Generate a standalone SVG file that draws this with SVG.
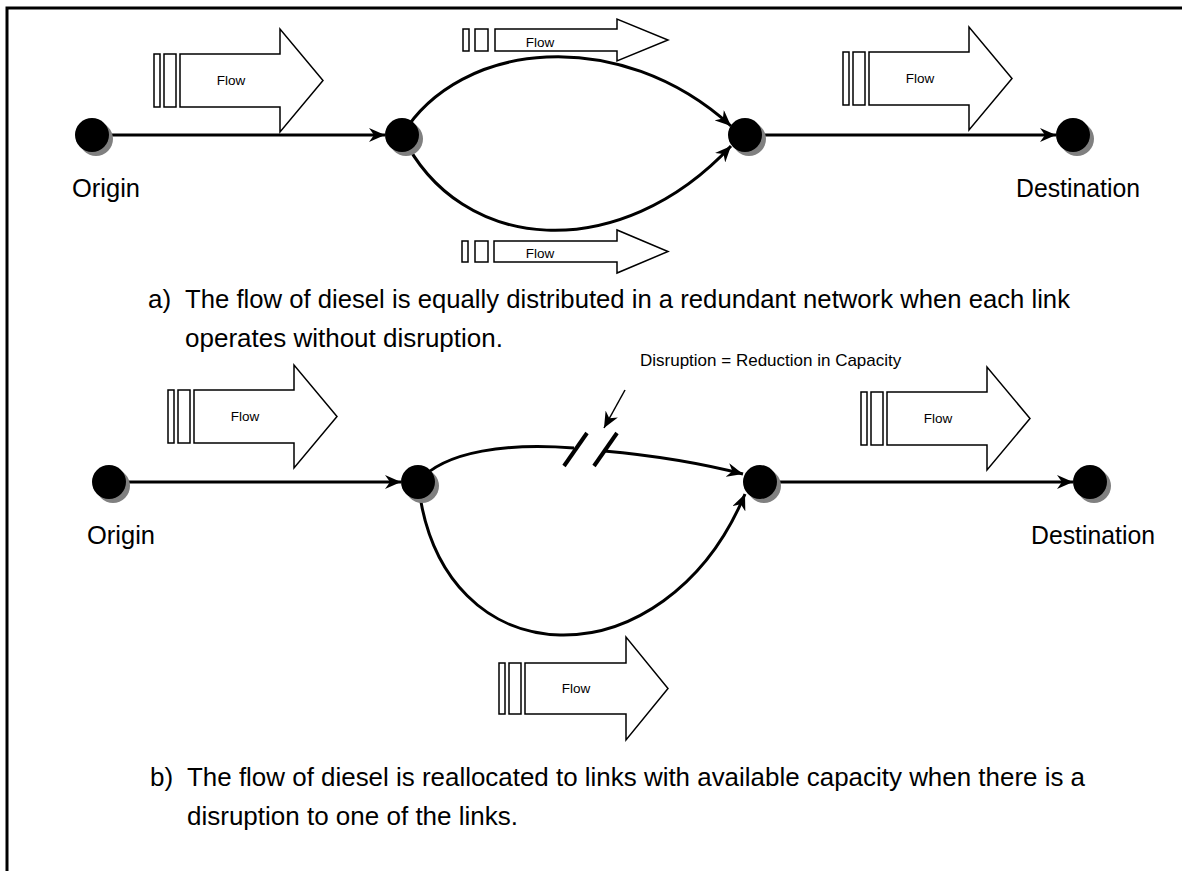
<svg xmlns="http://www.w3.org/2000/svg" width="1182" height="871" viewBox="0 0 1182 871">
<defs>
<marker id="ah" markerUnits="userSpaceOnUse" markerWidth="18" markerHeight="14" refX="16" refY="7" orient="auto">
<path d="M0,0 L16,7 L0,14 L5,7 Z" fill="#000"/>
</marker>
</defs>
<style>
.lbl{font-family:"Liberation Sans",Arial,sans-serif;fill:#000}
.big{font-size:26px}
.cap{font-size:26px}
.flow{font-size:13.5px}
.sm{font-size:17px}
.fa{fill:#fff;stroke:#000;stroke-width:1.5}
.edge{fill:none;stroke:#000;stroke-width:3}
.nd{fill:#000}
.sh{fill:#808080}
.dash{stroke:#000;stroke-width:4}
</style>
<rect width="1182" height="871" fill="#fff"/>
<path d="M7,871 V8 H1182" fill="none" stroke="#000" stroke-width="3"/>

<g id="connectors">
<line class="edge" x1="96" y1="135" x2="385" y2="135" marker-end="url(#ah)"/>
<path class="edge" d="M402,135 C460,40 620,25 731,126" marker-end="url(#ah)"/>
<path class="edge" d="M402,135 C460,255 620,265 731,146" marker-end="url(#ah)"/>
<line class="edge" x1="748" y1="135" x2="1056" y2="135" marker-end="url(#ah)"/>

<line class="edge" x1="110" y1="482" x2="401" y2="482" marker-end="url(#ah)"/>
<path class="edge" d="M418,482 C445,450 510,443 574,448"/>
<path class="edge" d="M604,451 C660,456 700,463 743,474" marker-end="url(#ah)"/>
<path class="edge" d="M418,482 C440,684 666,684 745,494" marker-end="url(#ah)"/>
<line class="edge" x1="760" y1="482" x2="1073" y2="482" marker-end="url(#ah)"/>
</g>

<g id="flowA1"><rect class="fa" x="154" y="54" width="6" height="53"/><rect class="fa" x="164" y="54" width="12" height="53"/><path class="fa" d="M180,54 H280 V29 L323,80.5 L280,132 V107 H180 Z"/><text class="lbl flow" x="231" y="85" text-anchor="middle">Flow</text></g>
<g id="flowA2"><rect class="fa" x="463" y="29" width="6" height="22"/><rect class="fa" x="475" y="29" width="13" height="22"/><path class="fa" d="M495,29 H617 V19 L668,40 L617,61 V51 H495 Z"/><text class="lbl flow" x="540" y="47" text-anchor="middle">Flow</text></g>
<g id="flowA3"><rect class="fa" x="462" y="241" width="6" height="21"/><rect class="fa" x="475" y="241" width="13" height="21"/><path class="fa" d="M494,241 H617 V230 L668,251.5 L617,273 V262 H494 Z"/><text class="lbl flow" x="540" y="258" text-anchor="middle">Flow</text></g>
<g id="flowA4"><rect class="fa" x="843" y="52" width="6" height="53"/><rect class="fa" x="853" y="52" width="12" height="53"/><path class="fa" d="M869,52 H969 V27 L1012,78.5 L969,130 V105 H869 Z"/><text class="lbl flow" x="920" y="83" text-anchor="middle">Flow</text></g>

<g id="originA"><circle class="sh" cx="96" cy="139" r="17"/><circle class="nd" cx="92" cy="135" r="17"/><text class="lbl big" x="72" y="197" textLength="68" lengthAdjust="spacingAndGlyphs">Origin</text></g>
<g id="nodeA2"><circle class="sh" cx="406" cy="139" r="17"/><circle class="nd" cx="402" cy="135" r="17"/></g>
<g id="nodeA3"><circle class="sh" cx="749" cy="139" r="17"/><circle class="nd" cx="745" cy="135" r="17"/></g>
<g id="destA"><circle class="sh" cx="1077" cy="139" r="17"/><circle class="nd" cx="1073" cy="135" r="17"/><text class="lbl big" x="1016" y="197" textLength="124" lengthAdjust="spacingAndGlyphs">Destination</text></g>

<g id="captionA"><text class="lbl cap" x="148" y="308">a)</text><text class="lbl cap" x="185" y="308" textLength="885" lengthAdjust="spacingAndGlyphs">The flow of diesel is equally distributed in a redundant network when each link</text><text class="lbl cap" x="185" y="347">operates without disruption.</text></g>

<g id="flowB1"><rect class="fa" x="168" y="390" width="6" height="53"/><rect class="fa" x="178" y="390" width="12" height="53"/><path class="fa" d="M194,390 H294 V365 L337,416.5 L294,468 V443 H194 Z"/><text class="lbl flow" x="245" y="421" text-anchor="middle">Flow</text></g>
<g id="flowB2"><rect class="fa" x="861" y="392" width="6" height="53"/><rect class="fa" x="871" y="392" width="12" height="53"/><path class="fa" d="M887,392 H987 V367 L1030,418.5 L987,470 V445 H887 Z"/><text class="lbl flow" x="938" y="423" text-anchor="middle">Flow</text></g>
<g id="flowB3"><rect class="fa" x="499" y="663" width="6" height="51"/><rect class="fa" x="509" y="663" width="12" height="51"/><path class="fa" d="M525,663 H626 V637 L668,688.5 L626,740 V714 H525 Z"/><text class="lbl flow" x="576" y="693" text-anchor="middle">Flow</text></g>

<g id="originB"><circle class="sh" cx="113" cy="486" r="17"/><circle class="nd" cx="109" cy="482" r="17"/><text class="lbl big" x="87" y="544" textLength="68" lengthAdjust="spacingAndGlyphs">Origin</text></g>
<g id="nodeB2"><circle class="sh" cx="422" cy="486" r="17"/><circle class="nd" cx="418" cy="482" r="17"/></g>
<g id="nodeB3"><circle class="sh" cx="764" cy="486" r="17"/><circle class="nd" cx="760" cy="482" r="17"/></g>
<g id="destB"><circle class="sh" cx="1094" cy="486" r="17"/><circle class="nd" cx="1090" cy="482" r="17"/><text class="lbl big" x="1031" y="544" textLength="124" lengthAdjust="spacingAndGlyphs">Destination</text></g>

<g id="disruption">
<line class="dash" x1="564" y1="466" x2="587" y2="433"/>
<line class="dash" x1="594" y1="466" x2="617" y2="433"/>
<line x1="625" y1="390" x2="604" y2="428" stroke="#000" stroke-width="1.5" marker-end="url(#ah)"/>
<text class="lbl sm" x="640" y="366">Disruption = Reduction in Capacity</text>
</g>

<g id="captionB"><text class="lbl cap" x="150" y="786">b)</text><text class="lbl cap" x="187" y="786" textLength="898" lengthAdjust="spacingAndGlyphs">The flow of diesel is reallocated to links with available capacity when there is a</text><text class="lbl cap" x="187" y="825">disruption to one of the links.</text></g>
</svg>
